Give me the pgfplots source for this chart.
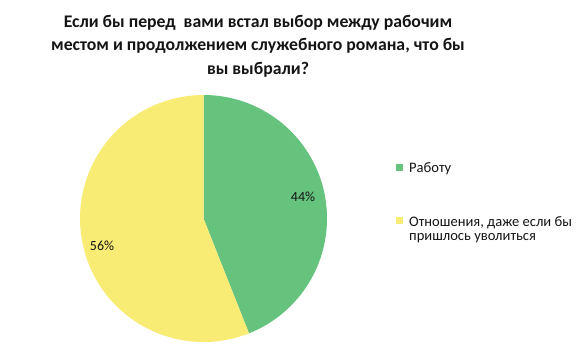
\documentclass[border=0pt]{standalone}
\usepackage{pgfplots}
\pgfplotsset{compat=1.18}
\usepackage{fontspec}
\setmainfont{Carlito}
\definecolor{cgreen}{RGB}{102,195,126}
\definecolor{cyellow}{RGB}{249,236,116}
\definecolor{ctext}{RGB}{20,20,20}
% data (percent)
\def\valA{44}% Работу
\def\valB{56}% Отношения
\pgfmathsetmacro{\angA}{90-3.6*\valA}
\pgfmathsetmacro{\angB}{\angA-3.6*\valB}
\begin{document}
\begin{tikzpicture}
\begin{axis}[x=1bp,y=1bp,xmin=0,xmax=585,ymin=0,ymax=361,
  hide axis, scale only axis, clip=false]
\path (axis cs:0,0) (axis cs:585,361);
% pie
\fill[cgreen] (axis cs:203.5,142.5) -- ++(90:123.5bp) arc[start angle=90,end angle=\angA,radius=123.5bp] -- cycle;
\fill[cyellow] (axis cs:203.5,142.5) -- ++(\angA:123.5bp) arc[start angle=\angA,end angle=\angB,radius=123.5bp] -- cycle;
% data labels
\node[font=\fontsize{14}{16}\selectfont,text=ctext] at (axis cs:303,164) {\valA\%};
\node[font=\fontsize{14}{16}\selectfont,text=ctext] at (axis cs:102,115) {\valB\%};
% title (base anchor = last line baseline)
\node[anchor=base,align=center,font=\fontsize{17.8}{23.5}\bfseries\selectfont,text=ctext] at (axis cs:258,287)
  {Если бы перед\ \ вами встал выбор между рабочим\\местом и продолжением служебного романа, что бы\\вы выбрали?};
% legend
\fill[cgreen] (axis cs:396,190.5) rectangle (axis cs:403,197.5);
\fill[cyellow] (axis cs:396,137.5) rectangle (axis cs:403,144.5);
\node[anchor=base west,inner sep=0pt,font=\fontsize{14.6}{14}\selectfont,text=ctext] at (axis cs:409,189) {Работу};
\node[anchor=base west,inner sep=0pt,align=left,font=\fontsize{14.6}{14}\selectfont,text=ctext] at (axis cs:409,121) {Отношения, даже если бы\\пришлось уволиться};
\end{axis}
\end{tikzpicture}
\end{document}
